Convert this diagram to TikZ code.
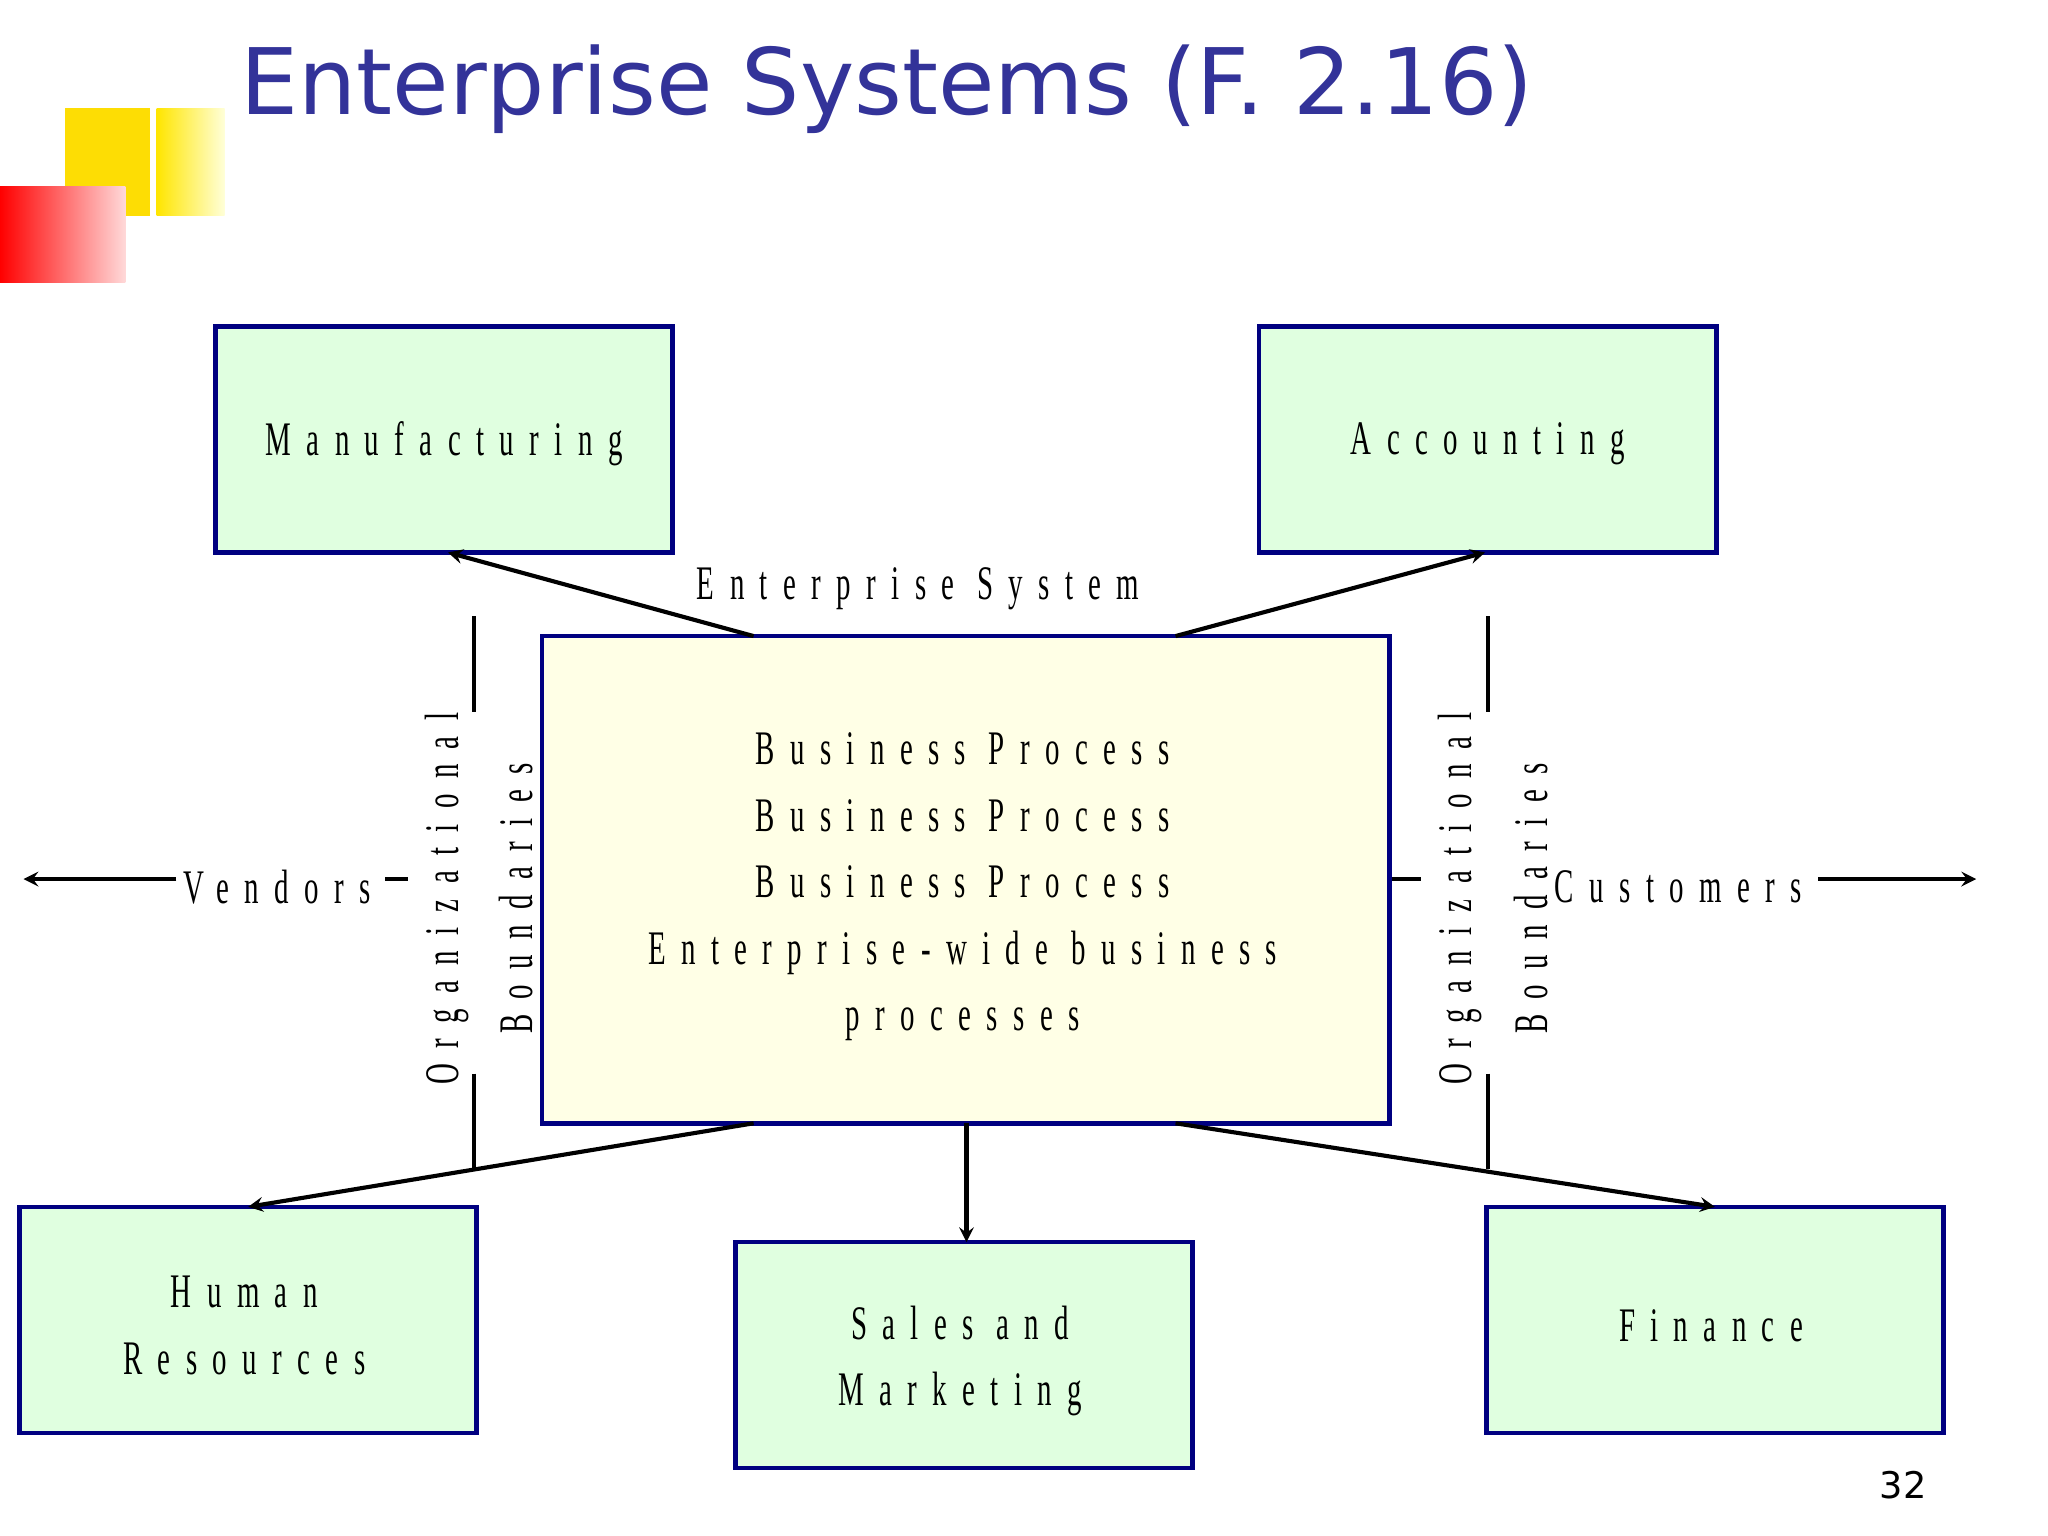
\documentclass[tikz,border=0pt]{standalone}
\usepackage{fontspec}
\setmainfont{Liberation Serif}
\newfontfamily\ttl{DejaVu Sans}
\newfontfamily\dg[FakeStretch=0.6,LetterSpace=32]{Liberation Serif}
\definecolor{ttlblue}{RGB}{51,51,153}
\definecolor{navy}{RGB}{0,0,128}
\definecolor{boxg}{RGB}{224,255,224}
\definecolor{boxy}{RGB}{255,255,230}
\begin{document}
\begin{tikzpicture}[x=0.02cm,y=-0.02cm,
  bx/.style={draw=navy,line width=2pt,fill=boxg},
  tx/.style={font=\dg\fontsize{21}{29}\selectfont,align=center},
  ar/.style={->,>=stealth,line width=1.8pt},
  ln/.style={line width=1.8pt}]
\useasboundingbox (0,0) rectangle (1568,1176);
\fill[white] (0,0) rectangle (1568,1176);
\fill[yellow!80!orange] (50,83) rectangle (115,165);
\shade[left color=yellow!80!orange,right color=yellow!15] (120,83) rectangle (172,165);
\shade[left color=red,right color=red!15] (0,143) rectangle (96,216);
\node[anchor=west,text=ttlblue,font=\ttl\fontsize{40}{48}\selectfont] (title) at (178,68) {Enterprise Systems (F. 2.16)};
\node[font=\ttl\fontsize{16}{20}\selectfont] (pg) at (1457,1137) {32};
\draw[bx] (165,250) rectangle (515,423); \node[tx] (man) at (340,340) {Manufacturing};
\draw[bx] (964,250) rectangle (1314,423); \node[tx] (acc) at (1139,340) {Accounting};
\draw[bx] (15,924) rectangle (365,1097); \node[tx] (hr) at (187,1015) {Human\\Resources};
\draw[bx] (563,951) rectangle (913,1124); \node[tx] (sm) at (735,1042) {Sales and\\Marketing};
\draw[bx] (1138,924) rectangle (1488,1097); \node[tx] (fin) at (1310,1015) {Finance};
\draw[draw=navy,line width=2pt,fill=boxy] (415,487) rectangle (1064,860);
\node[tx] (bp) at (737,679) {Business Process\\Business Process\\Business Process\\Enterprise-wide business\\processes};
\node[tx] (es) at (703,451) {Enterprise System};
\coordinate (t1) at (577,487); \coordinate (t2) at (900,487);
\coordinate (b1) at (577,860); \coordinate (b2) at (740,860); \coordinate (b3) at (900,860);
\coordinate (m) at (343,423); \coordinate (a) at (1137,423);
\coordinate (h) at (190,924); \coordinate (s) at (740,951); \coordinate (f) at (1313,924);
\draw[ar] (t1)--(m); \draw[ar] (t2)--(a);
\draw[ar] (b1)--(h); \draw[ar] (b2)--(s); \draw[ar] (b3)--(f);
\node[tx] (ven) at (212,679) {Vendors};
\node[tx] (cus) at (1285,679) {Customers};
\coordinate (vl) at (18,673); \coordinate (cr) at (1513,673);
\draw[ar] (135,673)--(vl); \draw[ln] (295,673)--(312,673);
\draw[ar] (1392,673)--(cr); \draw[ln] (1066,673)--(1088,673);
\draw[ln] (363,472)--(363,545); \draw[ln] (363,822)--(363,895);
\draw[ln] (1139,472)--(1139,545); \draw[ln] (1139,822)--(1139,895);
\node[tx,rotate=90] (o1) at (342,688) {Organizational};
\node[tx,rotate=90] (bd1) at (395,688) {Boundaries};
\node[tx,rotate=90] (o2) at (1118,688) {Organizational};
\node[tx,rotate=90] (bd2) at (1172,688) {Boundaries};
\end{tikzpicture}
\end{document}
